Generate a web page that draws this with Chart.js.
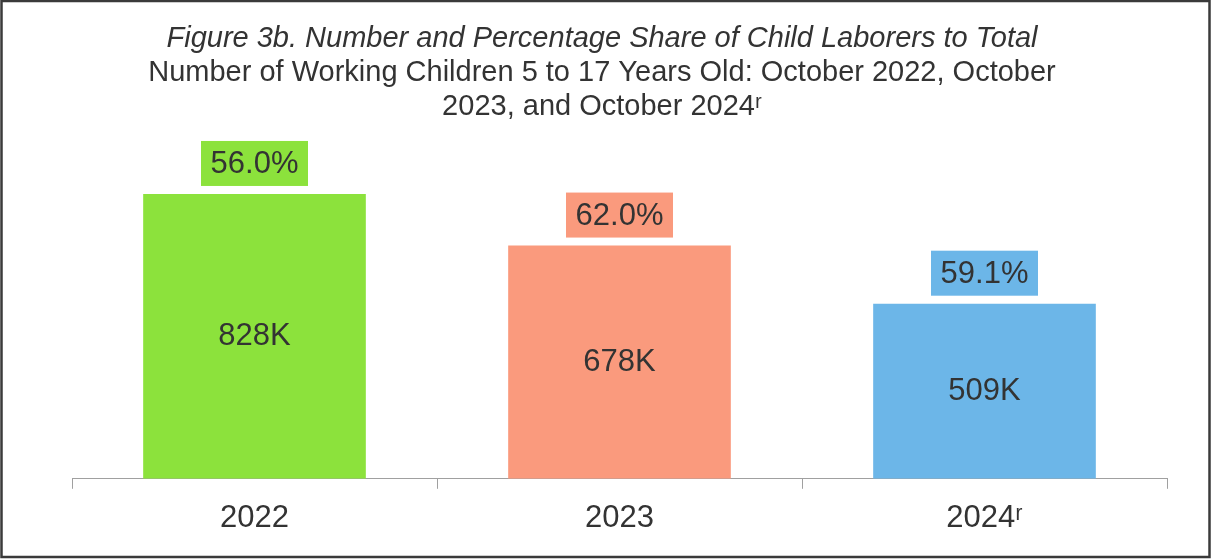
<!DOCTYPE html>
<html>
<head>
<meta charset="utf-8">
<script src="https://cdn.jsdelivr.net/npm/chart.js@4.4.1/dist/chart.umd.min.js"></script>
<style>
  html, body { margin: 0; padding: 0; background: #fff; }
  #wrap { position: relative; width: 1212px; height: 559px; }
</style>
</head>
<body>
<div id="wrap"><canvas id="myChart"></canvas></div>
<script>
const categories = ["2022", "2023", "2024\u02B3"];
const childLaborers = [828, 678, 509];      // thousands
const shareOfWorking = [56.0, 62.0, 59.1];  // percent of working children
const barColors = ["#8ce23c", "#fa9a7d", "#6cb6e8"];

const textColor = "#333333";
const fontFamily = "'Liberation Sans', Arial, sans-serif";

const ctx = document.getElementById("myChart");

// draws the K labels inside the bars and the % boxes above them
const barLabels = {
  id: "barLabels",
  afterDatasetsDraw(chart) {
    var c = chart.ctx;
    var meta = chart.getDatasetMeta(0);
    c.save();
    c.font = "31px " + fontFamily;
    c.textAlign = "center";
    c.textBaseline = "middle";
    meta.data.forEach(function (bar, i) {
      c.fillStyle = textColor;
      c.fillText(childLaborers[i] + "K", bar.x, (bar.y + bar.base) / 2);

      var boxW = 107, boxH = 45;
      var boxBottom = bar.y - 8;
      c.fillStyle = barColors[i];
      c.fillRect(bar.x - boxW / 2, boxBottom - boxH, boxW, boxH);
      c.fillStyle = textColor;
      c.fillText(shareOfWorking[i].toFixed(1) + "%", bar.x, boxBottom - boxH / 2 + 1);
    });
    c.restore();
  },
};

// outer frame of the figure
const frame = {
  id: "frame",
  afterDraw(chart) {
    var c = chart.ctx;
    c.save();
    c.strokeStyle = "#3a3a3a";
    c.lineWidth = 2.5;
    c.strokeRect(1.5, 1, chart.width - 4, chart.height - 3);
    c.restore();
  },
};

// empty side axes only reserve room, so the title stays centred on the figure
function fixedWidth(w) {
  return function (scale) { scale.width = w; };
}

new Chart(ctx, {
  type: "bar",
  data: {
    labels: categories,
    datasets: [
      {
        label: "Child laborers",
        data: childLaborers,
        backgroundColor: barColors,
        borderWidth: 0,
        categoryPercentage: 1.0,
        barPercentage: 0.61,
      },
    ],
  },
  options: {
    responsive: true,
    maintainAspectRatio: false,
    animation: false,
    layout: {
      padding: { left: 0, right: 8, top: 0, bottom: 11 },
    },
    plugins: {
      legend: { display: false },
      tooltip: { enabled: false },
      title: {
        display: true,
        text: "Figure 3b. Number and Percentage Share of Child Laborers to Total",
        color: textColor,
        font: { family: fontFamily, size: 29, style: "italic", weight: "normal", lineHeight: 1.17 },
        padding: { top: 22, bottom: 0 },
      },
      subtitle: {
        display: true,
        text: [
          "Number of Working Children 5 to 17 Years Old: October 2022, October",
          "2023, and October 2024\u02B3",
        ],
        color: textColor,
        font: { family: fontFamily, size: 29, weight: "normal", lineHeight: 1.17 },
        padding: { top: 0, bottom: 11 },
      },
    },
    scales: {
      y: {
        display: true,
        position: "left",
        min: 0,
        max: 1000,
        ticks: { display: false },
        grid: { display: false },
        border: { display: false },
        afterFit: fixedWidth(72),
      },
      yRight: {
        display: true,
        position: "right",
        min: 0,
        max: 1000,
        ticks: { display: false },
        grid: { display: false },
        border: { display: false },
        afterFit: fixedWidth(37),
      },
      x: {
        grid: {
          display: true,
          drawOnChartArea: false,
          drawTicks: true,
          tickLength: 10,
          color: "#a0a0a0",
        },
        border: { display: true, color: "#a0a0a0", width: 1 },
        ticks: {
          color: textColor,
          padding: 11,
          font: { family: fontFamily, size: 31 },
        },
      },
    },
  },
  plugins: [barLabels, frame],
});
</script>
</body>
</html>
